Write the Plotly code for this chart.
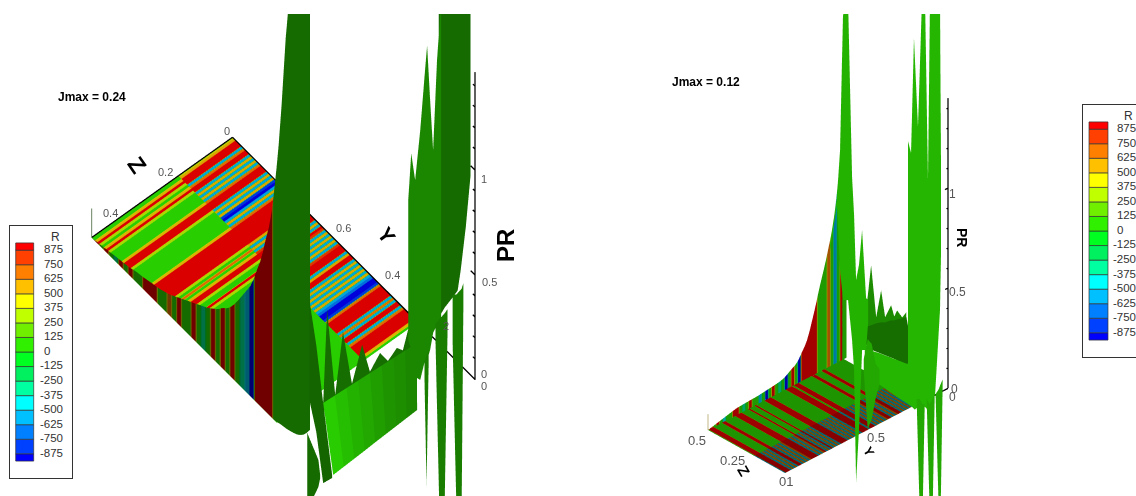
import numpy as np
import plotly.graph_objects as go

# ---------- contour levels ----------
level_edges = [-937.5,-875,-750,-625,-500,-375,-250,-125,0,125,250,375,500,625,750,875,937.5]
level_colors = ["#0000FF","#0040FF","#0080FF","#00C0FF","#00FFFF","#00FFA0","#00F060","#00FF20",
                "#30F000","#70F000","#C0FF00","#FFFF00","#FFC000","#FF8000","#FF4000","#FF0000"]
level_labels = [875,750,625,500,375,250,125,0,-125,-250,-375,-500,-625,-750,-875]

# ---------- left panel (Jmax = 0.24): floor stripes, sampled every 0.008 in (1-Y) ----------
L_floor_R_inner = [300,600,950,950,950,-550,700,950,950,-550,600,-550,600,-550,700,950,950,950,-550,600,
  -550,600,-800,-950,-600,600,-550,700,950,950,950,950,950,950,950,950,600,-550,600,-550,
  800,950,950,-550,600,-550,950,800,-550,600,-550,600,-550,600,-550,800,950,950,950,-550,
  600,950,950,-550,600,-550,600,-550,600,-550,600,-550,-700,-950,-950,-800,700,950,950,950,
  950,950,-550,700,-550,950,950,-550,700,950,950,950,950,950,500,100]
L_floor_R_outer = [60,60,500,950,300,60,500,950,300,60,60,60,60,60,500,950,950,950,300,60,
  60,60,60,60,60,60,60,500,950,950,950,950,950,950,950,950,300,60,700,60,
  500,950,950,300,60,60,950,300,60,60,60,60,60,60,60,60,60,60,60,60,
  60,60,60,60,60,60,60,60,60,60,60,60,60,60,60,60,60,60,60,60,
  60,60,60,60,60,60,60,60,60,60,60,60,60,60,60,60]
L_floor_Z_inner = [0.0,0.18]
L_floor_Z_outer = [0.18,0.47]

# side wall at the outer Z edge: position in (1-Y), lower PR, upper PR, R
L_wall_t = [0,.02,.04,.06,.08,.10,.12,.14,.16,.18,.20,.22,.24,.26,.28,.30,.32,.34,.36,.38,.40,.42,.44,.46,.48,.50,
  .52,.54,.56,.58,.60,.62,.64,.66,.68,.70,.72,.736,.756,.777,.806,.818,.84,.86,.88,.90]
L_wall_low = [0]*38+[0,.01,.018,.024,.035,.052,.08,.124]
L_wall_top = [0,.005,.01,.015,.02,.026,.03,.035,.04,.05,.055,.06,.068,.074,.08,.09,.10,.115,.13,.145,.16,.175,.19,.205,.22,.24,
  .26,.29,.31,.345,.39,.44,.49,.54,.63,.71,.84,.92,1.13,1.42,2.0,2.1,2.5,2.55,2.6,2.6]
L_wall_R = [60,950,60,950,60,-300,950,60,950,60,60,950,950,950,60,60,700,60,950,60,60,950,60,-300,60,950,
  60,950,60,950,60,-300,-500,-950,950,950,950,950,60,60,60,60,60,60,60,60]

# plate in front of the floor end, eight strips from right to left
L_plate_low_Z = [.153,.188,.223,.258,.293,.328,.363,.398,.433]
L_plate_low_PR = [-.046,-.049,-.052,-.055,-.058,-.062,-.065,-.068,-.071]
L_plate_top_Z = [.032,.071,.110,.150,.189,.228,.267,.306,.345]
L_plate_top_PR = [-.022,-.018,-.014,-.010,-.006,-.002,.002,.006,.01]
L_plate_shade = [.56,.59,.62,.66,.70,.74,.79,.85]

# spike sheets: Y, Z, lower PR, upper PR
L_row = dict(Y=0.2, Z=[.345,.332,.305,.279,.249,.215,.189,.155,.129,.099,.079,.059,.032],
  low=[-.03]*13, top=[.01,.44,.008,.281,.003,.155,0,.055,-.01,.022,-.01,.082,-.022], shade=.46)
L_a = dict(Y=0.0, Z=[.553,.53,.507,.477], low=[.466,.29,.023,.017], top=[.942,.704,.404,.031], shade=.42)
L_b = dict(Y=0.0, Z=[.56,.523,.517], low=[-.05,.021,.057], top=[.316,.15,.071], shade=.44)
L_r1 = dict(Y=0.0, Z=[.223,.213,.2,.183,.167,.16,.15,.14,.127,.113],
  low=[.417,.359,.217,.186,.264,.257,.295,.366,.39,.4],
  top=[1.084,1.297,1.155,1.376,1.645,1.757,1.486,1.237,1.652,1.924], shade=.56)
L_r2 = dict(Y=0.01, Z=[.113,.093,.067,.05,.04,.023,.007],
  low=[.4,.428,.449,.465,.55,.738,.97], top=[1.924,1.904,1.877,1.86,1.85,1.833,1.816], shade=.44)
L_d1 = dict(Y=-.01, Z=[.177,.17,.163], low=[.203,-.318,.261], top=[.28,.30,.32], shade=.52)
L_d2 = dict(Y=-.01, Z=[.14,.127,.11,.1], low=[.332,-.49,-.508,.34], top=[.42,.43,.44,.45], shade=.52)
L_d3 = dict(Y=-.01, Z=[.083,.07,.053,.047], low=[.275,-.548,-.565,.428], top=[.50,.49,.50,.52], shade=.52)

# ---------- right panel (Jmax = 0.12): floor stripes, sampled every 0.01 in (1-Y) ----------
R_floor_R_inner = [-550,950,950,950,-550,700,-550,700,-550,950,950,-550,700,-550,700,-550,700,950,950,950,
  950,-550,700,-550,700,950,-550,700,-550,950,-550,700,-550,700,-550,950,950,950,950,-550,
  700,-550,700,-550,700,-550,700,-550,950,950,950,950,-550,950,950,950,-550,700,-550,700,
  -550,700,-550,700,950,950,-550,700,-550,700,950,950,-550,700,-550,700,-550,700,-550,700,
  -550,700,-550,60]
R_floor_R_outer = [60,950,950,950,60,60,60,60,60,950,950,60,60,60,60,60,60,950,950,950,
  950,60,60,60,60,950,60,60,60,950,60,60,60,60,60,950,950,950,950,60,
  60,60,60,60,60,60,60,60,950,950,950,950,60,950,950,950,60,60,60,60,
  60,60,60,60,950,950,60,60,60,60,950,950,60,60,60,60,60,60,60,60,
  60,60,60,60]
R_floor_Z_inner = [0.0,0.2]
R_floor_Z_outer = [0.2,0.5]

R_wall_t = [0,.02,.04,.06,.08,.10,.12,.14,.16,.18,.20,.22,.24,.26,.28,.30,.32,.34,.36,.38,.40,.42,.44,.46,.48,.50,
  .52,.54,.56,.58,.60,.62,.64,.66,.68,.70,.72,.74,.76,.78,.80,.82,.83,.85]
R_wall_top = [0,.004,.008,.012,.016,.02,.024,.028,.032,.035,.036,.037,.038,.039,.04,.04,.042,.044,.046,.048,.05,.052,.055,.06,.068,.08,
  .09,.10,.12,.15,.175,.22,.28,.34,.41,.47,.53,.60,.67,.77,.92,1.15,1.41,1.8]
R_wall_R = [60,950,60,950,60,-400,60,60,950,950,60,-300,60,950,60,60,-500,60,-900,60,950,60,-300,60,-900,60,
  950,60,-900,950,950,950,950,950,60,60,60,700,60,-600,60,950,60,60]

R_main = dict(Y=0.0, Z=[.766,.721,.701,.682,.649,.623,.61,.597,.578,.558,.532,.519],
  low=[.36,.605,.289,.147,.16,-.028,-.173,-.727,-.459,-.05,-.039,.102],
  top=[.395,.645,.889,1.57,1.66,.787,.603,.284,.367,.55,.221,.217], shade=.74)
R_row = dict(Y=0.005, Z=[.519,.494,.461,.429,.403,.364,.344,.325,.292,.266],
  low=[.087,.103,.127,.146,.157,.184,.192,.205,.225,.241],
  top=[.217,.403,.157,.306,.182,.259,.212,.25,.229,.266], shade=.58)
R_plate = dict(Y=0.01, Z=[.519,.26,.214], low=[-.018,.014,.033], top=[.102,.249,.073], shade=.46)
R_shelf = dict(Y=0.02, Z=[.519,.422,.331,.214,.195,.117],
  low=[-.043,-.157,-.168,-.177,-.183,-.11], top=[-.018,0,.012,.033,-.018,-.085], shade=.76)
R_right = dict(Y=0.0, Z=[.26,.24,.221,.195,.169,.149,.13,.117,.084,.052,.045],
  low=[.004,-.038,-.08,-.119,-.158,-.159,-.166,-.135,-.072,.368,.671],
  top=[1.124,1.072,1.655,1.222,1.868,1.876,.984,1.89,1.904,1.918,1.035], shade=.76)
R_d1 = dict(Y=-.01, Z=[.214,.195,.175,.162], low=[-.162,-.694,-.686,-.165], top=[-.152,-.144,-.161,-.155], shade=.70)
R_d2 = dict(Y=-.01, Z=[.149,.13,.11,.097], low=[-.134,-.666,-.658,-.087], top=[-.124,-.141,-.108,-.077], shade=.70)
R_d3 = dict(Y=-.01, Z=[.091,.071,.058,.045], low=[-.084,-.641,-.635,.01], top=[-.074,-.041,-.01,.02], shade=.70)
R_low = dict(Y=-.01, Z=[.558,.532,.506,.481,.455], low=[-.16,-.439,-.378,-.266,-.18], top=[-.1,.011,-.002,-.091,-.105], shade=.70)

# axes
PR_ticks = [.1,.2,.3,.4,.5,.6,.7,.8,.9,1.0,1.1,1.2,1.3,1.4]
L_PR_top, R_PR_top = 1.467, 1.45
L_Zmax, R_Zmax = 0.47, 0.5

# ---------- colours ----------
cs = []
span = level_edges[-1]-level_edges[0]
for i, c in enumerate(level_colors):
    cs.append([(level_edges[i]-level_edges[0])/span, c])
    cs.append([(level_edges[i+1]-level_edges[0])/span, c])
cmin, cmax = level_edges[0], level_edges[-1]

def flat(s): return dict(ambient=s, diffuse=0, specular=0, roughness=1, fresnel=0)
LP = dict(x=0, y=0, z=100000)

def surf(scene, X, Y, Z, C, lighting):
    return go.Surface(scene=scene, x=X, y=Y, z=Z, surfacecolor=C, colorscale=cs, cmin=cmin, cmax=cmax,
                      showscale=False, lighting=lighting, lightposition=LP, hoverinfo="skip")

def plateau(ts, vals, half):
    """Each sample holds its value over a short plateau, so that stripes keep sharp edges."""
    out_t, out_v = [], []
    for t, v in zip(ts, vals):
        out_t += [t-half, t+half]
        out_v += [v, v]
    return out_t, out_v

def floor(scene, R_vals, step, Zs, shade):
    ts = [i*step for i in range(len(R_vals))]
    tt, rr = plateau(ts, R_vals, step*.36)
    Ys = [1-max(t, 0) for t in tt]
    n = len(Ys)
    return surf(scene, [Ys, Ys], [[Zs[0]]*n, [Zs[1]]*n], [[0]*n, [0]*n], [rr, rr], flat(shade))

def wall(scene, ts, low, top, R, z0, shade, half):
    tt, rr = plateau(ts, R, half)
    tt = [min(max(t, ts[0]), ts[-1]) for t in tt]
    Ys = [1-t for t in tt]
    lo = list(np.interp(tt, ts, low))
    hi = list(np.interp(tt, ts, top))
    n = len(Ys)
    return surf(scene, [Ys, Ys], [[z0]*n, [z0]*n], [lo, hi], [rr, rr], flat(shade))

def sheet(scene, s, R=60):
    n = len(s["Z"])
    return surf(scene, [[s["Y"]]*n]*2, [s["Z"], s["Z"]], [s["low"], s["top"]], [[R]*n]*2, flat(s["shade"]))

def line3d(scene, xs, ys, zs, color="black", width=2.5):
    return go.Scatter3d(scene=scene, x=xs, y=ys, z=zs, mode="lines", line=dict(color=color, width=width),
                        showlegend=False, hoverinfo="skip")

def pr_axis(scene, top):
    xs, ys, zs = [0, 0], [0, 0], [0, top]
    for p in PR_ticks:
        if p <= top:
            xs += [None, 0, .018 if abs(p*2-round(p*2)) < 1e-6 else .009]
            ys += [None, 0, 0]
            zs += [None, p, p]
    return line3d(scene, xs, ys, zs)

fig = go.Figure()
# left
fig.add_trace(floor("scene", L_floor_R_inner, .008, L_floor_Z_inner, .86))
fig.add_trace(floor("scene", L_floor_R_outer, .008, L_floor_Z_outer, .86))
fig.add_trace(wall("scene", L_wall_t, L_wall_low, L_wall_top, L_wall_R, L_Zmax, .44, .006))
for j, shade in enumerate(L_plate_shade):
    fig.add_trace(surf("scene", [[.05,.05],[.2,.2]],
                       [L_plate_low_Z[j:j+2], L_plate_top_Z[j:j+2]],
                       [L_plate_low_PR[j:j+2], L_plate_top_PR[j:j+2]], [[60,60],[60,60]], flat(shade)))
for s in (L_row, L_a, L_b, L_r1, L_r2, L_d1, L_d2, L_d3):
    fig.add_trace(sheet("scene", s))
fig.add_trace(line3d("scene", [1, 1], [0, L_Zmax], [0.002, 0.002]))
fig.add_trace(line3d("scene", [1, 0], [0, 0], [0.002, 0.002]))
fig.add_trace(line3d("scene", [1, 1], [L_Zmax, L_Zmax], [0, .14], "#3a5a30", 1.5))
fig.add_trace(pr_axis("scene", L_PR_top))
# right
fig.add_trace(floor("scene2", R_floor_R_inner, .01, R_floor_Z_inner, .52))
fig.add_trace(floor("scene2", R_floor_R_outer, .01, R_floor_Z_outer, .62))
fig.add_trace(wall("scene2", R_wall_t, [0]*len(R_wall_t), R_wall_top, R_wall_R, R_Zmax, .64, .006))
for s in (R_plate, R_row, R_shelf, R_low, R_main, R_right, R_d1, R_d2, R_d3):
    fig.add_trace(sheet("scene2", s))
fig.add_trace(line3d("scene2", [.17, 0], [0, 0], [-0.002, -0.002]))
fig.add_trace(line3d("scene2", [1, 1], [R_Zmax, R_Zmax], [0, .08], "#b0a060", 1.5))
fig.add_trace(pr_axis("scene2", R_PR_top))

# legends
bases = level_edges[:-1]
heights = [level_edges[i+1]-level_edges[i] for i in range(16)]
def legend(xa, ya, cx, w):
    pos = [l for l in level_labels if l >= 0]
    neg = [l for l in level_labels if l < 0]
    fig.add_trace(go.Bar(x=[cx]*16, y=heights, base=bases, width=w, marker=dict(color=level_colors, line=dict(color="#333", width=.7)),
                         xaxis=xa, yaxis=ya, showlegend=False, hoverinfo="skip"))
    fnt = dict(family="Liberation Sans", size=11.5, color="#333")
    fig.add_trace(go.Scatter(x=[.548]*len(pos), y=pos, text=[str(l) for l in pos], mode="text", textposition="middle right",
                             textfont=fnt, xaxis=xa, yaxis=ya, showlegend=False, hoverinfo="skip"))
    fig.add_trace(go.Scatter(x=[.484]*len(neg), y=neg, text=[str(l) for l in neg], mode="text", textposition="middle right",
                             textfont=fnt, xaxis=xa, yaxis=ya, showlegend=False, hoverinfo="skip"))
    fig.add_trace(go.Scatter(x=[.73], y=[980], text=["R"], mode="text", textposition="middle center",
                             textfont=dict(family="Liberation Sans", size=12, color="#333"), xaxis=xa, yaxis=ya, showlegend=False, hoverinfo="skip"))
legend("x", "y", .237, .29)
legend("x2", "y2", .25, .306)

W, H = 1136, 496
def px(x): return x/W
def py(y): return 1-y/H

def cam(n, center_data, mids, ranges, aspect, d):
    c = [(center_data[i]-mids[i])/ranges[i]*aspect[i] for i in range(3)]
    return dict(center=dict(x=c[0], y=c[1], z=c[2]),
                eye=dict(x=c[0]+d*n[0], y=c[1]+d*n[1], z=c[2]+d*n[2]),
                up=dict(x=0, y=0, z=1), projection=dict(type="orthographic"))

rng = dict(Y=[-.3,1.2], Z=[-.2,1.0], P=[-1.0,4.0])
mids = [.45,.4,1.5]; spans = [1.5,1.2,5.0]
asp_L = [2.34,1.952,8.09]
asp_R = [1.411,1.103,4.927]
D = 12.0
def scene_layout(dom, asp, camera):
    hid = dict(visible=False, showgrid=False, zeroline=False, showspikes=False)
    return dict(domain=dom, aspectmode="manual", aspectratio=dict(x=asp[0], y=asp[1], z=asp[2]),
                xaxis=dict(range=rng["Y"], **hid), yaxis=dict(range=rng["Z"], **hid), zaxis=dict(range=rng["P"], **hid),
                bgcolor="white", camera=camera, dragmode=False)

fig.update_layout(
    width=W, height=H, margin=dict(l=0, r=0, t=0, b=0), paper_bgcolor="white", plot_bgcolor="rgba(0,0,0,0)",
    showlegend=False, barmode="overlay",
    scene=scene_layout(dict(x=[76/W, 536/W], y=[0, 482/H]), asp_L, cam([-.411,.347,.843], [.45,.2,.279], mids, spans, asp_L, D)),
    scene2=scene_layout(dict(x=[640/W, 1000/W], y=[0, 482/H]), asp_R, cam([-.585,.605,-.540], [.45,.355,.704], mids, spans, asp_R, D)),
)
box = dict(showgrid=False, zeroline=False, showticklabels=False, ticks="", showline=True, linecolor="#333", linewidth=1, fixedrange=True)
fig.update_layout(
    xaxis=dict(domain=[px(10), px(72)], range=[0,1], anchor="y", mirror=True, **box),
    yaxis=dict(domain=[py(478), py(226)], range=[-1083,1083], anchor="x", mirror=True, **box),
    xaxis2=dict(domain=[px(1083), 1.0], range=[0,.855], anchor="y2", mirror=True, **box),
    yaxis2=dict(domain=[py(357), py(105)], range=[-1083,1083], anchor="x2", **box),
)

# text
def tf(s): return dict(family="Liberation Sans", size=s, color="#555")
tick_labels = [("0",227,131,11),("0.2",165,172,11),("0.4",110,213,11),("0.6",343,228,11),("0.4",392,275,11),("2",446,326,11),
               ("1",484,179,11),("0.5",489,282,11),("0",484,374,11),("0",484,386,11),
               ("0.5",697,440,13),("0.25",733,460,13),("01",786,481,13),("0.5",876,437,13),
               ("1",952,194,12),("0.5",957,292,12),("0",954,389,12),("0",952,397,12)]
anns = [dict(text=t, x=px(x), y=py(y), xref="paper", yref="paper", showarrow=False, font=tf(s), xanchor="center", yanchor="middle")
        for t, x, y, s in tick_labels]
bold = [("Jmax = 0.24",92,97,12,0,"black"),("Jmax = 0.12",706,82,12,0,"black"),
        ("Z",137,165,23,55,"black"),("Y",387,235,21,55,"black"),("PR",505,246,24,-90,"black"),
        ("Z",744,470,15,60,"black"),("Y",869,451,13,60,"black"),("PR",962,237,14,90,"black")]
anns += [dict(text="<b>%s</b>" % t, x=px(x), y=py(y), xref="paper", yref="paper", showarrow=False,
              font=dict(family="Liberation Sans", size=s, color=c), textangle=a, xanchor="center", yanchor="middle")
         for t, x, y, s, a, c in bold]
fig.update_layout(annotations=anns)

fig.write_html("out.html", config=dict(displayModeBar=False, staticPlot=False),
               post_script="document.body.style.margin='0';document.body.style.overflow='hidden';")
